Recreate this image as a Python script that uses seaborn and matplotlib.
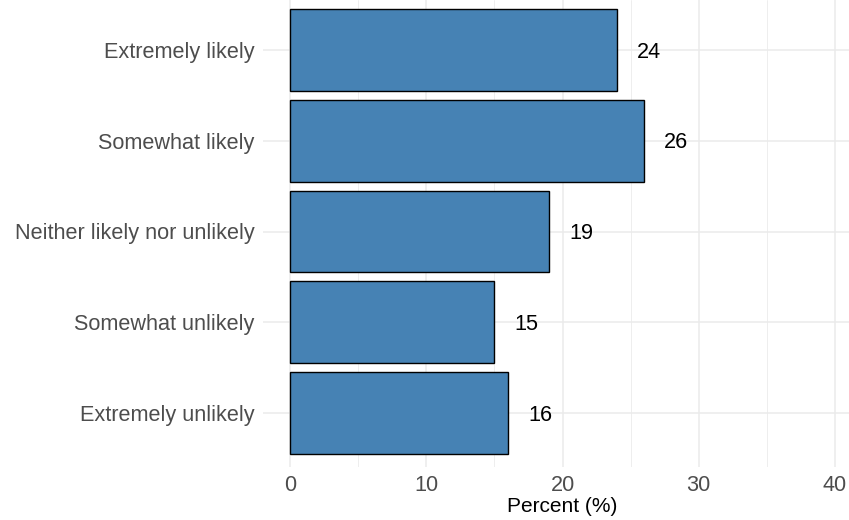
import matplotlib
matplotlib.use("Agg")
import matplotlib.pyplot as plt
import seaborn as sns
import pandas as pd
from matplotlib.ticker import MultipleLocator

categories = ["Extremely likely", "Somewhat likely", "Neither likely nor unlikely",
              "Somewhat unlikely", "Extremely unlikely"]
percents = [24, 26, 19, 15, 16]
x_ticks = [0, 10, 20, 30, 40]

df = pd.DataFrame({"response": categories, "percent": percents})

sns.set_theme(style="white")
plt.rcParams["font.family"] = ["Liberation Sans", "DejaVu Sans"]

W, H = 849, 520
fig = plt.figure(figsize=(W / 100, H / 100), dpi=100)
ax = fig.add_axes([263 / W, 1 - 467 / H, (862 - 263) / W, 467 / H])

sns.barplot(data=df, x="percent", y="response", order=categories, orient="h",
            color="#4682B4", saturation=1, edgecolor="black", linewidth=1.0,
            width=0.9, ax=ax, zorder=3)

ax.set_xlim(-2, 42)
ax.set_ylim(4 + 54 / 90.75, -50 / 90.75)
ax.set_xticks(x_ticks)
ax.xaxis.set_minor_locator(MultipleLocator(5))
ax.grid(True, which="major", color="#ebebeb", linewidth=1.1, zorder=0)
ax.grid(True, which="minor", axis="x", color="#ebebeb", linewidth=0.6, zorder=0)
ax.set_axisbelow(True)
for s in ax.spines.values():
    s.set_visible(False)
ax.tick_params(axis="both", which="both", length=0, labelsize=15.6, labelcolor="#4d4d4d")
ax.tick_params(axis="y", pad=6)
ax.tick_params(axis="x", pad=6)
ax.set_ylabel("")
ax.set_xlabel("Percent (%)", fontsize=15, color="black", labelpad=0.5)

for i, v in enumerate(percents):
    ax.annotate(str(v), xy=(v, i), xytext=(14.5, -1.5), textcoords="offset points",
                ha="left", va="center", fontsize=15.6, color="black")

fig.savefig("out.png", dpi=100)
